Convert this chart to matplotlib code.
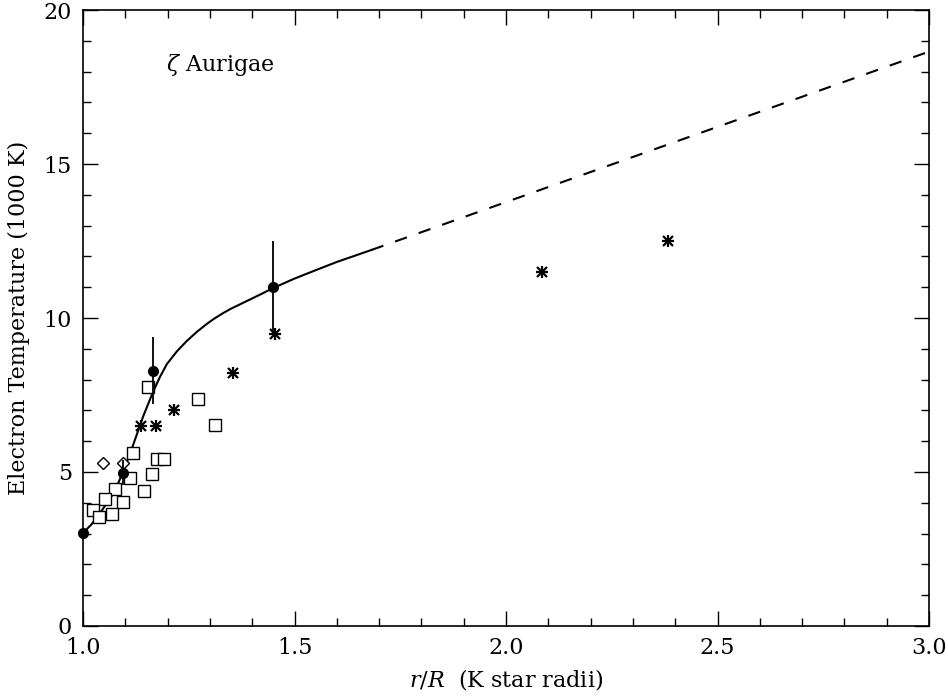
import matplotlib
matplotlib.use('Agg')
import matplotlib.pyplot as plt
from matplotlib.ticker import MultipleLocator

# model curve (solid part) and its extrapolation (dashed)
curve_r = [1.0, 1.02, 1.04, 1.072, 1.095, 1.119, 1.142, 1.166, 1.182, 1.198,
           1.222, 1.245, 1.269, 1.29, 1.308, 1.33, 1.348, 1.387, 1.42, 1.449,
           1.50, 1.544, 1.60, 1.682]
curve_t = [3.02, 3.3, 3.66, 4.31, 5.0, 5.9, 6.8, 7.62, 8.09, 8.5,
           8.92, 9.25, 9.55, 9.78, 9.96, 10.15, 10.29, 10.55, 10.77, 10.97,
           11.28, 11.52, 11.82, 12.21]
extrap_r = [1.682, 3.0]
extrap_t = [12.21, 18.65]

# filled circles with error bars
circ_r = [1.0, 1.095, 1.166, 1.45]
circ_t = [3.02, 4.98, 8.29, 11.0]
circ_err = [0.0, 0.4, 1.08, 1.5]

# asterisks
star_r = [1.137, 1.172, 1.215, 1.354, 1.453, 2.086, 2.384]
star_t = [6.5, 6.5, 7.02, 8.2, 9.48, 11.5, 12.5]

# open squares
sq_r = [1.153, 1.272, 1.313, 1.118, 1.176, 1.192, 1.111, 1.162, 1.076, 1.143,
        1.052, 1.094, 1.023, 1.037, 1.068]
sq_t = [7.75, 7.36, 6.51, 5.61, 5.41, 5.41, 4.8, 4.94, 4.44, 4.39,
        4.13, 4.03, 3.77, 3.53, 3.64]

# open diamonds
dia_r = [1.046, 1.094]
dia_t = [5.28, 5.28]

plt.rcParams['font.family'] = 'DejaVu Serif'
plt.rcParams['mathtext.fontset'] = 'dejavuserif'

fig = plt.figure(figsize=(9.48, 6.96), dpi=100)
ax = fig.add_axes([0.0876, 0.1006, 0.8924, 0.885])

ax.plot(curve_r, curve_t, color='black', lw=1.5, zorder=2)
ax.plot(extrap_r, extrap_t, color='black', lw=1.5, ls=(0, (6, 6)), zorder=2)

ax.errorbar(circ_r, circ_t, yerr=circ_err, fmt='o', color='black', ms=7,
            elinewidth=1.3, capsize=0, zorder=4, clip_on=False)

ax.plot(star_r, star_t, ls='none', marker='+', color='black', ms=9, mew=1.6, zorder=3)
ax.plot(star_r, star_t, ls='none', marker='x', color='black', ms=7, mew=1.6, zorder=3)

ax.plot(sq_r, sq_t, ls='none', marker='s', ms=9, mfc='white', mec='black', mew=1.0, zorder=3)
ax.plot(dia_r, dia_t, ls='none', marker='D', ms=6.5, mfc='white', mec='black', mew=1.0, zorder=3)

ax.text(1.196, 18.2, r'$\zeta$ Aurigae', fontsize=16, va='center', ha='left')

ax.set_xlim(1.0, 3.0)
ax.set_ylim(0, 20)
ax.xaxis.set_major_locator(MultipleLocator(0.5))
ax.xaxis.set_minor_locator(MultipleLocator(0.1))
ax.yaxis.set_major_locator(MultipleLocator(5))
ax.yaxis.set_minor_locator(MultipleLocator(1))
ax.xaxis.set_major_formatter(plt.FuncFormatter(lambda v, p: f'{v:.1f}'))
ax.yaxis.set_major_formatter(plt.FuncFormatter(lambda v, p: f'{v:.0f}'))

ax.tick_params(which='both', direction='in', top=True, right=True, labelsize=16, width=1.0)
ax.tick_params(which='major', length=11, pad=8)
ax.tick_params(which='minor', length=5.5)
for s in ax.spines.values():
    s.set_linewidth(1.2)

ax.set_xlabel(r'$r/R$  (K star radii)', fontsize=16, labelpad=6)
ax.set_ylabel('Electron Temperature (1000 K)', fontsize=16, labelpad=10)

fig.savefig('out.png', dpi=100)
